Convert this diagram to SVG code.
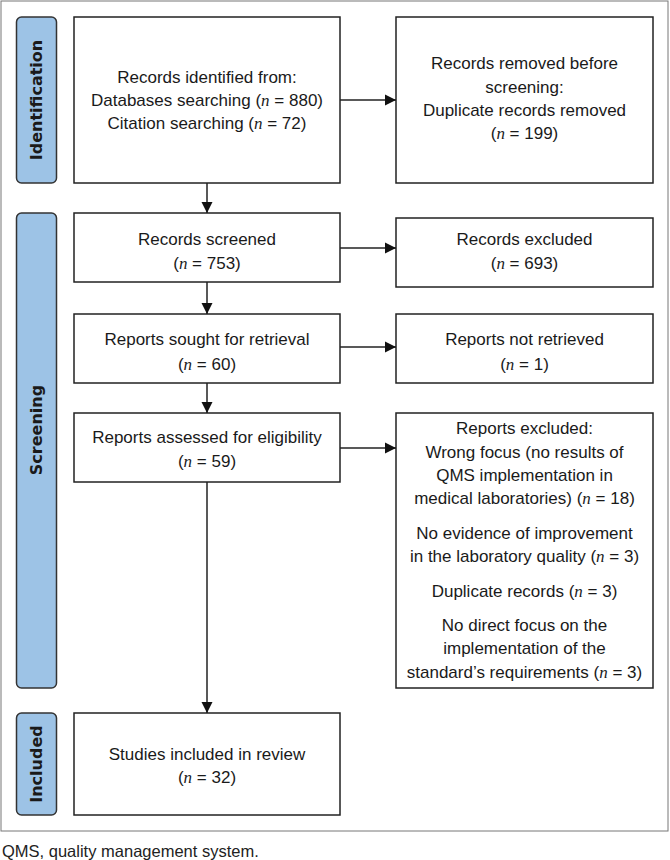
<svg xmlns="http://www.w3.org/2000/svg" width="670" height="860" viewBox="0 0 670 860">
<defs>
<style>
.box{fill:#fff;stroke:#222;stroke-width:1.5}
.side{fill:#9dc3e6;stroke:#333;stroke-width:1.5}
.t{font-family:"Liberation Sans",Arial,sans-serif;font-size:17px;fill:#1a1a1a;text-anchor:middle}
.n{font-family:"Liberation Serif","Times New Roman",serif;font-style:italic}
.lab{font-family:"DejaVu Sans",Verdana,sans-serif;font-weight:bold;font-size:16px;fill:#1a1a1a;text-anchor:middle;dominant-baseline:central}
.con{stroke:#222;stroke-width:1.5;fill:none;marker-end:url(#ah)}
.cap{font-family:"Liberation Sans",Arial,sans-serif;font-size:16.5px;fill:#222}
</style>
<marker id="ah" viewBox="0 0 10 10" refX="10" refY="5" markerWidth="11" markerHeight="11" markerUnits="userSpaceOnUse" orient="auto" style="overflow:visible">
<path d="M0,0 L10,5 L0,10 Z" fill="#111"/>
</marker>
</defs>
<rect x="1" y="1" width="667" height="830" fill="#fff" stroke="#777" stroke-width="1"/>

<g id="side-identification">
<rect class="side" x="16.5" y="17" width="40" height="166" rx="5"/>
<text class="lab" transform="translate(36.5,100) rotate(-90)">Identification</text>
</g>
<g id="side-screening">
<rect class="side" x="16.5" y="213" width="40" height="475" rx="5"/>
<text class="lab" transform="translate(36.5,430) rotate(-90)">Screening</text>
</g>
<g id="side-included">
<rect class="side" x="16.5" y="713" width="40" height="102" rx="5"/>
<text class="lab" transform="translate(36.5,764) rotate(-90)">Included</text>
</g>

<g id="identified">
<rect class="box" x="74" y="17" width="266" height="166"/>
<text class="t"><tspan x="207" y="83">Records identified from:</tspan><tspan x="207" y="106">Databases searching (<tspan class="n">n</tspan> = 880)</tspan><tspan x="207" y="129">Citation searching (<tspan class="n">n</tspan> = 72)</tspan></text>
</g>
<g id="removed">
<rect class="box" x="396" y="17" width="257" height="166"/>
<text class="t"><tspan x="524.5" y="69">Records removed before</tspan><tspan x="524.5" y="93">screening:</tspan><tspan x="524.5" y="116">Duplicate records removed</tspan><tspan x="524.5" y="139">(<tspan class="n">n</tspan> = 199)</tspan></text>
</g>
<g id="screened">
<rect class="box" x="74" y="213" width="266" height="69"/>
<text class="t"><tspan x="207" y="245">Records screened</tspan><tspan x="207" y="269">(<tspan class="n">n</tspan> = 753)</tspan></text>
</g>
<g id="excluded">
<rect class="box" x="396" y="218" width="257" height="69"/>
<text class="t"><tspan x="524.5" y="245">Records excluded</tspan><tspan x="524.5" y="269">(<tspan class="n">n</tspan> = 693)</tspan></text>
</g>
<g id="sought">
<rect class="box" x="74" y="314" width="266" height="69"/>
<text class="t"><tspan x="207" y="345">Reports sought for retrieval</tspan><tspan x="207" y="370">(<tspan class="n">n</tspan> = 60)</tspan></text>
</g>
<g id="notretrieved">
<rect class="box" x="396" y="314" width="257" height="69"/>
<text class="t"><tspan x="524.5" y="345">Reports not retrieved</tspan><tspan x="524.5" y="370">(<tspan class="n">n</tspan> = 1)</tspan></text>
</g>
<g id="assessed">
<rect class="box" x="74" y="413" width="266" height="69"/>
<text class="t"><tspan x="207" y="443">Reports assessed for eligibility</tspan><tspan x="207" y="467">(<tspan class="n">n</tspan> = 59)</tspan></text>
</g>
<g id="reportsexcluded">
<rect class="box" x="396" y="413" width="257" height="275"/>
<text class="t"><tspan x="524.5" y="434">Reports excluded:</tspan><tspan x="524.5" y="458">Wrong focus (no results of</tspan><tspan x="524.5" y="481">QMS implementation in</tspan><tspan x="524.5" y="504">medical laboratories) (<tspan class="n">n</tspan> = 18)</tspan><tspan x="524.5" y="539">No evidence of improvement</tspan><tspan x="524.5" y="562">in the laboratory quality (<tspan class="n">n</tspan> = 3)</tspan><tspan x="524.5" y="597">Duplicate records (<tspan class="n">n</tspan> = 3)</tspan><tspan x="524.5" y="631">No direct focus on the</tspan><tspan x="524.5" y="654">implementation of the</tspan><tspan x="524.5" y="678">standard’s requirements (<tspan class="n">n</tspan> = 3)</tspan></text>
</g>
<g id="included">
<rect class="box" x="74" y="713" width="266" height="102"/>
<text class="t"><tspan x="207" y="760">Studies included in review</tspan><tspan x="207" y="783">(<tspan class="n">n</tspan> = 32)</tspan></text>
</g>

<g id="connectors">
<line class="con" x1="340" y1="100" x2="396" y2="100"/>
<line class="con" x1="207" y1="183" x2="207" y2="213"/>
<line class="con" x1="340" y1="248" x2="396" y2="248"/>
<line class="con" x1="207" y1="282" x2="207" y2="314"/>
<line class="con" x1="340" y1="347" x2="396" y2="347"/>
<line class="con" x1="207" y1="383" x2="207" y2="413"/>
<line class="con" x1="340" y1="448" x2="396" y2="448"/>
<line class="con" x1="207" y1="482" x2="207" y2="713"/>
</g>

<text class="cap" x="2" y="857">QMS, quality management system.</text>
</svg>
